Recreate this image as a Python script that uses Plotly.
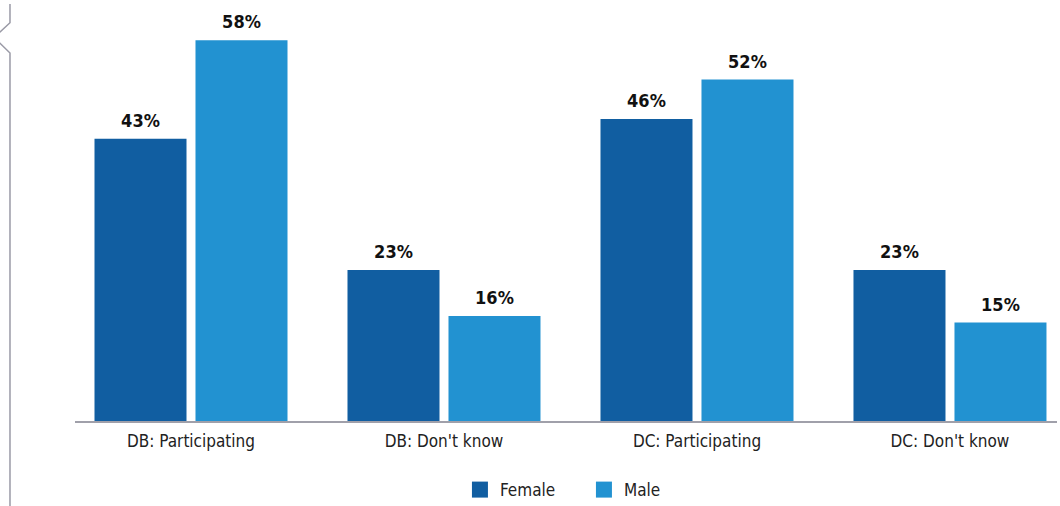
import plotly.graph_objects as go

categories = ["DB: Participating", "DB: Don't know", "DC: Participating", "DC: Don't know"]
female = [43, 23, 46, 23]
male = [58, 16, 52, 15]

FONT = "DejaVu Sans Condensed"
W, H = 1060, 506
L, R, T, B = 75, 3, 10, 85
pw, ph = W - L - R, H - T - B
COLORS = {"Female": "#115ea1", "Male": "#2292d1"}
BARGAP = 0.2016

fig = go.Figure()
for name, vals in [("Female", female), ("Male", male)]:
    fig.add_trace(go.Bar(
        name=name, x=categories, y=vals, marker_color=COLORS[name],
        marker_line_width=0, showlegend=False,
    ))
# value labels, grouped like the bars
for name, vals in [("Female", female), ("Male", male)]:
    fig.add_trace(go.Scatter(
        name=name, x=categories, y=vals, mode="markers+text",
        text=[f"<b>{v}%</b>" for v in vals], textposition="top center",
        marker=dict(size=10, opacity=0), cliponaxis=False, showlegend=False,
        hoverinfo="skip",
        textfont=dict(family=FONT, size=18, color="#111111"),
    ))
# legend entries (on a hidden axis pair so they do not take a group slot)
for name in ["Female", "Male"]:
    fig.add_trace(go.Scatter(
        name=name, x=[None], y=[None], mode="markers", xaxis="x2", yaxis="y2",
        marker=dict(symbol="square", size=18, color=COLORS[name]),
    ))

fig.update_layout(
    width=W, height=H, margin=dict(l=L, r=R, t=T, b=B, autoexpand=False),
    paper_bgcolor="white", plot_bgcolor="white",
    barmode="group", bargap=BARGAP, bargroupgap=0.089,
    scattermode="group", scattergap=BARGAP,
    font=dict(family=FONT, size=17, color="#222222"),
    showlegend=True,
    legend=dict(orientation="h", x=0.392, xanchor="left", y=-0.168, yanchor="middle",
                font=dict(family=FONT, size=17, color="#222222"), itemwidth=30,
                entrywidth=79, traceorder="normal"),
    xaxis=dict(range=[-0.4585, 3.423], showline=True, linecolor="#a0a0aa", linewidth=2,
               ticks="outside", ticklen=4, tickcolor="rgba(0,0,0,0)", showgrid=False,
               automargin=False,
               tickfont=dict(family=FONT, size=17, color="#222222")),
    yaxis=dict(range=[0, 62.6], visible=False, showgrid=False, automargin=False),
    xaxis2=dict(visible=False, overlaying="x", range=[0, 1]),
    yaxis2=dict(visible=False, overlaying="y", range=[0, 1]),
)

def px2paper(x, y):
    return (x - L) / pw, (H - B - y) / ph

pts = [(10, 4), (10, 22.7), (-6, 37.5), (10, 53), (10, 506)]
pp = [px2paper(x, y) for x, y in pts]
path = "M " + " L ".join(f"{x:.4f},{y:.4f}" for x, y in pp)
fig.add_shape(type="path", xref="paper", yref="paper", path=path,
              line=dict(color="#9a9aa6", width=1.5))

fig.write_html("out.html")
